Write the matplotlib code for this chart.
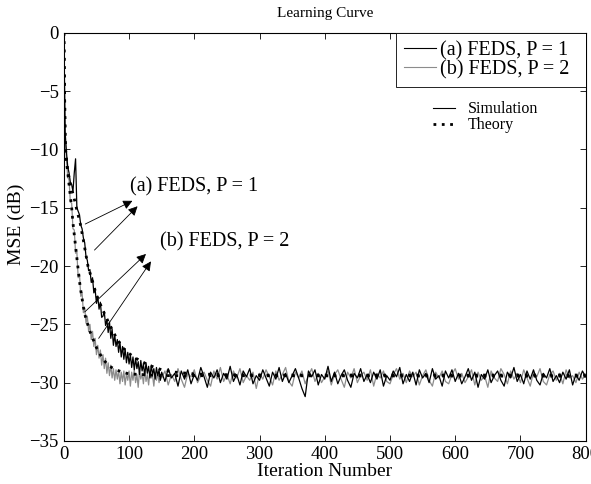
import numpy as np
import matplotlib
matplotlib.use('Agg')
import matplotlib.pyplot as plt
from matplotlib.lines import Line2D
from matplotlib.patches import Rectangle

plt.rcParams['font.family'] = ['Liberation Serif', 'DejaVu Serif']

# theory curves (dB)
th_a_x = [0, 1, 2, 3, 6, 10, 15, 20, 25, 30, 37, 45, 50, 60, 70, 80, 90, 100,
          110, 120, 130, 140, 150, 170, 200, 250, 300, 800]
th_a_y = [0, -4.5, -9.0, -10.3, -11.8, -13.0, -14.0, -15.2, -16.3, -17.8, -20.0,
          -21.5, -22.5, -23.8, -25.0, -26.1, -27.0, -27.5, -27.9, -28.2, -28.5,
          -28.7, -28.9, -29.1, -29.25, -29.32, -29.35, -29.35]
th_b_x = [0, 1, 2, 4, 6, 8, 10, 12, 14, 16, 18, 20, 22, 24, 26, 28, 30, 32, 36,
          40, 45, 50, 55, 60, 70, 80, 90, 100, 150, 800]
th_b_y = [0, -4.8, -9.5, -11.0, -12.0, -13.0, -14.0, -15.0, -16.3, -17.3, -18.3,
          -19.3, -20.3, -21.3, -22.1, -22.8, -23.5, -24.1, -24.9, -25.6, -26.3,
          -27.0, -27.5, -28.0, -28.6, -28.9, -29.1, -29.25, -29.4, -29.45]

# simulation: every 2 iterations up to 148, then every 5
sim_x = list(range(0, 150, 2)) + list(range(150, 801, 5))
sim_a = [0, -8.5, -10.2, -11.5, -12.0, -12.8, -13.0, -13.6, -12.0, -10.8,
         -15.0, -15.3, -15.6, -16.5, -16.8, -17.6, -18.0, -19.2, -19.5, -20.4,
         -20.3, -21.4, -21.0, -22.3, -22.0, -23.2, -22.6, -23.7, -23.1, -24.4,
         -24.3, -23.9, -25.1, -24.6, -25.7, -24.8, -26.2, -25.4, -26.8, -25.9,
         -26.9, -26.3, -27.4, -26.5, -27.8, -26.9, -28.0, -27.1, -28.3, -27.4,
         -28.4, -27.6, -28.7, -27.8, -28.9, -27.9, -28.8, -28.2, -29.3, -28.1,
         -29.0, -28.4, -29.4, -28.3, -29.2, -28.6, -29.6, -28.5, -29.3, -28.8,
         -29.7, -28.7, -29.4, -28.9, -29.8,
         -29.1, -29.9, -28.8, -29.6, -29.2, -30.3, -29.0, -29.7, -28.9, -30.1,
         -29.3, -29.8, -28.7, -29.5, -30.4, -29.1, -29.6, -28.9, -30.0, -29.2,
         -29.7, -28.6, -29.9, -29.3, -30.2, -29.0, -29.5, -28.8, -30.1, -29.4,
         -29.8, -28.9, -29.6, -30.3, -29.1, -29.7, -28.7, -29.9, -29.2, -30.0,
         -29.4, -28.8, -29.6, -30.5, -31.2, -29.0, -29.5, -28.9, -30.2, -29.3,
         -29.7, -28.6, -29.9, -29.1, -30.1, -29.4, -28.9, -29.8, -30.4, -29.2,
         -29.6, -28.8, -29.9, -29.3, -30.0, -29.1, -29.7, -28.9, -30.3, -29.4,
         -29.8, -29.0, -29.5, -28.7, -30.1, -29.3, -29.9, -29.1, -30.2, -28.9,
         -29.6, -29.2, -30.0, -28.8, -29.7, -29.4, -30.3, -29.0, -29.6, -28.9,
         -29.9, -29.2, -30.1, -29.5, -28.8, -29.8, -29.1, -30.4, -29.3, -29.7,
         -28.9, -30.0, -29.4, -29.0, -29.8, -30.3, -29.1, -29.6, -28.7, -29.9,
         -29.3, -30.1, -29.0, -29.7, -28.9, -29.8, -30.2, -29.2, -29.6, -28.8,
         -29.9, -29.4, -30.0, -29.1, -29.7, -28.9, -30.2, -29.3, -29.8, -29.0, -29.5]
sim_b = [0, -9.0, -10.8, -12.4, -12.6, -14.5, -14.6, -16.8, -16.9, -18.9,
         -18.8, -21.0, -20.7, -22.6, -22.3, -24.0, -23.6, -24.9, -24.3, -25.6,
         -25.0, -26.3, -25.6, -26.9, -26.2, -27.6, -26.8, -27.9, -27.2, -28.5,
         -27.6, -28.8, -27.9, -29.2, -28.3, -29.4, -28.5, -29.6, -28.8, -29.8,
         -28.9, -29.7, -29.0, -30.1, -29.1, -29.9, -29.0, -30.2, -29.2, -29.8,
         -29.0, -30.3, -29.1, -29.8, -28.9, -30.0, -29.3, -30.4, -29.0, -29.7,
         -29.2, -30.1, -28.9, -29.9, -29.3, -30.2, -29.0, -29.6, -29.4, -30.3,
         -29.1, -29.8, -29.2, -30.0, -29.3,
         -29.6, -29.0, -30.2, -29.3, -29.9, -28.8, -29.7, -30.4, -29.2, -29.5,
         -28.9, -30.0, -29.4, -29.1, -29.8, -30.3, -29.0, -29.7, -28.7, -29.9,
         -29.3, -30.1, -29.0, -29.6, -28.8, -30.0, -29.4, -29.8, -29.1, -30.5,
         -29.2, -29.7, -28.9, -29.5, -30.2, -29.0, -29.8, -29.3, -28.7, -29.9,
         -30.3, -29.1, -29.6, -29.0, -30.1, -29.4, -28.8, -29.9, -29.2, -30.0,
         -29.5, -29.0, -30.2, -29.3, -28.9, -29.7, -30.4, -29.1, -29.6, -28.8,
         -30.0, -29.4, -29.1, -29.8, -28.9, -30.3, -29.2, -29.6, -29.0, -29.9,
         -30.1, -29.3, -28.8, -29.7, -29.2, -30.0, -29.0, -29.5, -29.1, -30.2,
         -29.4, -28.9, -29.8, -30.3, -29.1, -29.6, -29.0, -29.9, -30.1, -29.3,
         -28.8, -29.7, -29.2, -30.0, -29.5, -28.9, -30.2, -29.1, -29.8, -29.4,
         -30.4, -29.0, -29.6, -29.9, -28.8, -29.3, -30.1, -29.0, -29.7, -29.2,
         -30.0, -28.9, -29.6, -30.3, -29.1, -29.5, -28.8, -29.9, -30.2, -29.3,
         -29.0, -29.8, -29.2, -30.1, -28.9, -29.6, -29.4, -30.0, -29.1, -29.7, -29.3]

gray = '#8c8c8c'

fig = plt.figure(figsize=(5.91, 4.84), dpi=100)
ax = fig.add_axes([0.108, 0.089, 0.883, 0.843])

ax.plot(sim_x, sim_b, color=gray, lw=0.9)
ax.plot(sim_x, sim_a, color='black', lw=0.9)
ax.plot(th_b_x, th_b_y, color='black', ls=(0, (1, 2)), lw=2.0)
ax.plot(th_a_x, th_a_y, color='black', ls=(0, (1, 2)), lw=2.0)

ax.set_xlim(0, 800)
ax.set_ylim(-35, 0)
ax.set_xticks(range(0, 801, 100))
ax.set_yticks(range(-35, 1, 5))
ax.tick_params(direction='in', top=True, right=True, labelsize=13.5, length=4, width=0.6)
for s in ax.spines.values():
    s.set_linewidth(0.8)

ax.set_xlabel('Iteration Number', fontsize=14, labelpad=0)
ax.set_ylabel('MSE (dB)', fontsize=14)
ax.yaxis.set_label_coords(-0.075, 0.532)
ax.set_title('Learning Curve', fontsize=11, pad=11.5)

# framed legend for the two filters
ax.add_patch(Rectangle((0.636, 0.868), 0.364, 0.132, transform=ax.transAxes,
                       facecolor='white', edgecolor='black', lw=0.6, zorder=4))
h1 = [Line2D([], [], color='black', lw=0.8), Line2D([], [], color=gray, lw=0.8)]
leg1 = ax.legend(h1, ['(a) FEDS, P = 1', '(b) FEDS, P = 2'], loc='upper left',
                 bbox_to_anchor=(0.633, 1.005), fontsize=14.5, frameon=False,
                 borderpad=0, handlelength=1.6, handletextpad=0.2, labelspacing=0.0)
leg1.set_zorder(5)
ax.add_artist(leg1)

h2 = [Line2D([], [], color='black', lw=0.8), Line2D([], [], color='black', ls=(0, (1, 2)), lw=2.0)]
ax.legend(h2, ['Simulation', 'Theory'], loc='upper left', bbox_to_anchor=(0.692, 0.852),
          fontsize=11.5, frameon=False, borderpad=0, handlelength=1.4,
          labelspacing=0.0, handletextpad=0.8)

arr = dict(arrowstyle='-|>', color='black', lw=0.6, mutation_scale=14)
ax.annotate('', xy=(109, -14.3), xytext=(29, -16.5), arrowprops=arr)
ax.annotate('', xy=(116, -14.7), xytext=(44, -18.8), arrowprops=arr)
ax.annotate('', xy=(129, -18.8), xytext=(29, -24.1), arrowprops=arr)
ax.annotate('', xy=(136, -19.4), xytext=(51, -26.4), arrowprops=arr)
ax.text(101, -13.2, '(a) FEDS, P = 1', fontsize=14.5, va='center', ha='left')
ax.text(148, -17.9, '(b) FEDS, P = 2', fontsize=14.5, va='center', ha='left')

fig.savefig('out.png', dpi=100)
